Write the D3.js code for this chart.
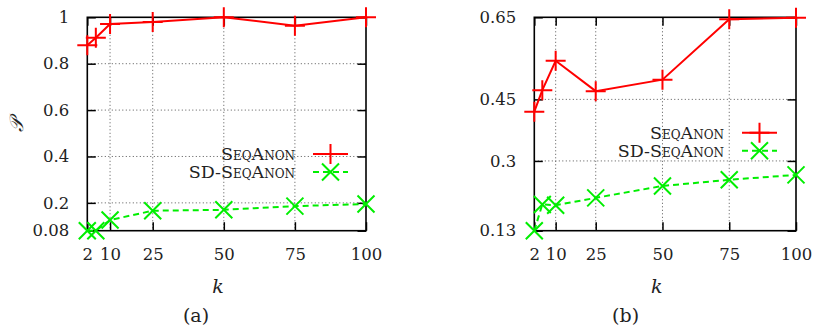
<!DOCTYPE html>
<html>
<head>
<meta charset="utf-8">
<script src="https://cdn.jsdelivr.net/npm/d3@7"></script>
<style>
  body { margin: 0; background: #fff; }
  svg text { font-family: "DejaVu Serif", serif; fill: #222; }
</style>
</head>
<body>
<svg width="813" height="331"></svg>
<script>
const kValues = [2, 5, 10, 25, 50, 75, 100];
const xTicks = [2, 10, 25, 50, 75, 100];

// panel (a)
const seqAnonA = [0.88, 0.912, 0.971, 0.98, 1.0, 0.964, 1.0];
const sdSeqAnonA = [0.08, 0.08, 0.126, 0.166, 0.17, 0.186, 0.195];
const yTicksA = [0.08, 0.2, 0.4, 0.6, 0.8, 1];

// panel (b)
const seqAnonB = [0.42, 0.4725, 0.544, 0.47, 0.498, 0.645, 0.649];
const sdSeqAnonB = [0.13, 0.194, 0.192, 0.21, 0.239, 0.254, 0.266];
const yTicksB = [0.13, 0.3, 0.45, 0.65];

const seriesNames = ['SeqAnon', 'SD-SeqAnon'];
const red = '#ff0000';
const green = '#00ee00';

const svg = d3.select('svg');

function plus(g, x, y, r) {
    g.append('path')
        .attr('d', `M${x - r},${y}H${x + r}M${x},${y - r}V${y + r}`)
        .attr('stroke', red).attr('stroke-width', 2).attr('fill', 'none');
}
function cross(g, x, y, r) {
    g.append('path')
        .attr('d', `M${x - r},${y - r}L${x + r},${y + r}M${x - r},${y + r}L${x + r},${y - r}`)
        .attr('stroke', green).attr('stroke-width', 2).attr('fill', 'none');
}

function drawPanel(p) {
    const g = svg.append('g');
    const x = d3.scaleLinear().domain([2, 100]).range([p.left, p.right]);
    const y = d3.scaleLinear().domain(p.yDomain).range([p.bottom, p.top]);

    // grid
    g.selectAll('.vgrid').data(xTicks.slice(1, -1)).enter().append('line')
        .attr('x1', d => x(d)).attr('x2', d => x(d))
        .attr('y1', p.top).attr('y2', p.bottom)
        .attr('stroke', '#555').attr('stroke-width', 1).attr('stroke-dasharray', '1,2.5');
    g.selectAll('.hgrid').data(p.yTicks.slice(1, -1)).enter().append('line')
        .attr('x1', p.left).attr('x2', p.right)
        .attr('y1', d => y(d)).attr('y2', d => y(d))
        .attr('stroke', '#555').attr('stroke-width', 1).attr('stroke-dasharray', '1,2.5');

    // axes: inward ticks mirrored on both sides
    const tl = 8.5;
    g.append('g').attr('transform', `translate(0,${p.bottom})`)
        .call(d3.axisBottom(x).tickValues(xTicks).tickSize(-tl).tickPadding(18).tickFormat(d3.format('d')))
        .call(a => a.select('.domain').remove());
    g.append('g').attr('transform', `translate(0,${p.top})`)
        .call(d3.axisTop(x).tickValues(xTicks).tickSize(-tl).tickFormat(''))
        .call(a => a.select('.domain').remove());
    g.append('g').attr('transform', `translate(${p.left},0)`)
        .call(d3.axisLeft(y).tickValues(p.yTicks).tickSize(-tl).tickPadding(18).tickFormat(d => String(d)))
        .call(a => a.select('.domain').remove());
    g.append('g').attr('transform', `translate(${p.right},0)`)
        .call(d3.axisRight(y).tickValues(p.yTicks).tickSize(-tl).tickFormat(''))
        .call(a => a.select('.domain').remove());
    g.selectAll('.tick line').attr('stroke', '#000').attr('stroke-width', 1.5);
    g.selectAll('.tick text').attr('font-size', 16.5).attr('font-family', 'DejaVu Serif').attr('fill', '#222');

    g.append('rect')
        .attr('x', p.left).attr('y', p.top)
        .attr('width', p.right - p.left).attr('height', p.bottom - p.top)
        .attr('fill', 'none').attr('stroke', '#000').attr('stroke-width', 1.6);

    // lines
    const line = d3.line().x(d => x(d[0])).y(d => y(d[1]));
    const redPts = kValues.map((k, i) => [k, p.seq[i]]);
    const greenPts = kValues.map((k, i) => [k, p.sd[i]]);
    g.append('path').attr('d', line(greenPts)).attr('fill', 'none')
        .attr('stroke', green).attr('stroke-width', 2).attr('stroke-dasharray', '6,4');
    g.append('path').attr('d', line(redPts)).attr('fill', 'none')
        .attr('stroke', red).attr('stroke-width', 2);
    greenPts.forEach(d => cross(g, x(d[0]), y(d[1]), 8.5));
    redPts.forEach(d => plus(g, x(d[0]), y(d[1]), 10));

    // legend
    const lg = g.append('g');
    seriesNames.forEach((name, i) => {
        const ly = p.legendY + i * 18;
        lg.append('text')
            .attr('x', p.legendX).attr('y', ly).attr('dy', '0.35em')
            .attr('text-anchor', 'end').attr('font-size', 17.5)
            .style('font-variant', 'small-caps')
            .text(name);
        const lx0 = p.legendX + 18, lx1 = p.legendX + 53;
        lg.append('line')
            .attr('x1', lx0).attr('x2', lx1).attr('y1', ly).attr('y2', ly)
            .attr('stroke', i === 0 ? red : green).attr('stroke-width', 2)
            .attr('stroke-dasharray', i === 0 ? null : '6,4');
        if (i === 0) plus(lg, (lx0 + lx1) / 2, ly, 10);
        else cross(lg, (lx0 + lx1) / 2, ly, 8.5);
    });

    // labels
    g.append('text').attr('x', p.kX).attr('y', 286).attr('dy', '0.35em')
        .attr('text-anchor', 'middle').attr('font-size', 19).attr('font-style', 'italic').text('k');
    g.append('text').attr('x', p.capX).attr('y', 315).attr('dy', '0.35em')
        .attr('text-anchor', 'middle').attr('font-size', 19).text(p.caption);
}

drawPanel({
    left: 87.3, right: 366, top: 17.3, bottom: 230.7,
    yDomain: [0.08, 1], yTicks: yTicksA, seq: seqAnonA, sd: sdSeqAnonA,
    legendX: 295, legendY: 154, kX: 218, capX: 196, caption: '(a)'
});
drawPanel({
    left: 534.3, right: 796, top: 17.3, bottom: 230.7,
    yDomain: [0.13, 0.65], yTicks: yTicksB, seq: seqAnonB, sd: sdSeqAnonB,
    legendX: 724, legendY: 132.7, kX: 656.7, capX: 625.6, caption: '(b)'
});

svg.append('text')
    .attr('transform', 'translate(16,125) rotate(-90)')
    .attr('text-anchor', 'middle').attr('dy', '0.35em')
    .attr('font-size', 19).attr('font-style', 'italic')
    .text('𝒫');
</script>
</body>
</html>
